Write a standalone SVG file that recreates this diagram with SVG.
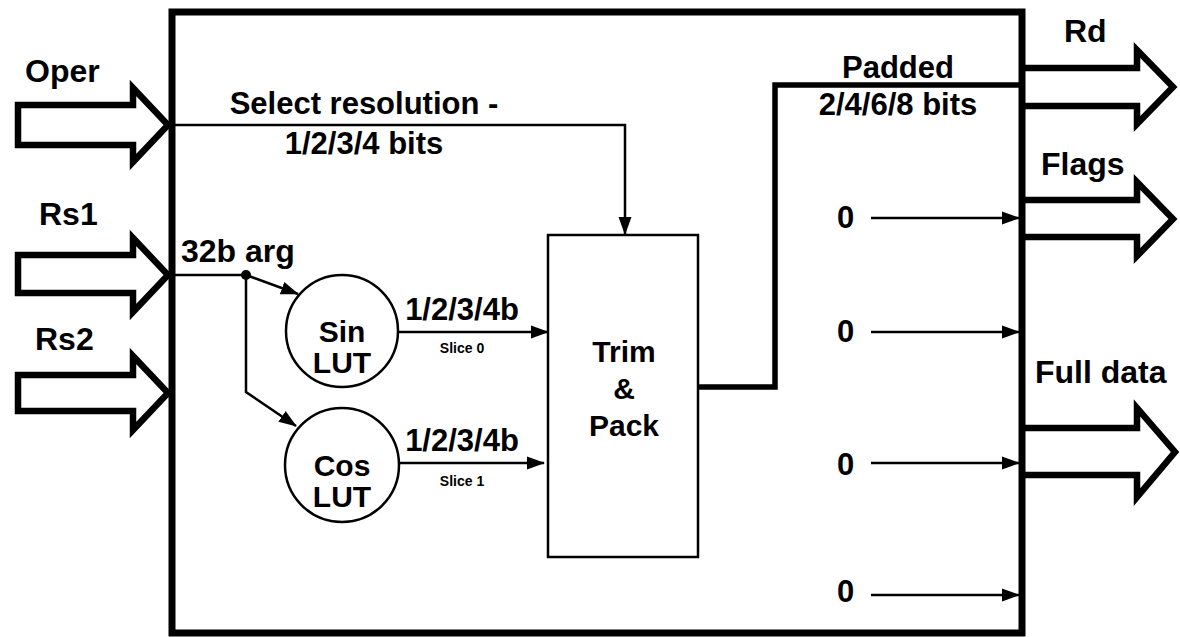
<svg xmlns="http://www.w3.org/2000/svg" width="1180" height="637" viewBox="0 0 1180 637">
<defs>
<marker id="ah" markerWidth="18" markerHeight="14" refX="17" refY="7" orient="auto" markerUnits="userSpaceOnUse">
<path d="M0,0.5 L18,7 L0,13.5 Z" fill="#000"/>
</marker>
<style>
text{font-family:"Liberation Sans",Arial,Helvetica,sans-serif;font-weight:bold;fill:#000}
.big{font-size:30px}
.io{font-size:32px}
.mid{font-size:31px}
.small{font-size:14px}
.blk{fill:#fff;stroke:#000;stroke-width:6.5;stroke-linejoin:miter}
.thin{fill:none;stroke:#000;stroke-width:2.5}
.thick{fill:none;stroke:#000;stroke-width:5.5}
.shape{fill:#fff;stroke:#000;stroke-width:2.5}
</style>
</defs>
<rect width="1180" height="637" fill="#fff"/>

<g id="oper">
<polygon class="blk" points="18,105 133,105 133,88 168,125 133,162 133,145 18,145"/>
<text class="io" x="25" y="82">Oper</text>
</g>
<g id="rs1">
<polygon class="blk" points="18,255 133,255 133,238 168,275 133,312 133,293 18,293"/>
<text class="io" x="39" y="225">Rs1</text>
</g>
<g id="rs2">
<polygon class="blk" points="18,375 133,375 133,356 168,393 133,430 133,411 18,411"/>
<text class="io" x="35" y="350">Rs2</text>
</g>

<g id="rd">
<polyline class="blk" points="1022,68 1137,68 1137,50 1173,87 1137,124 1137,106 1022,106"/>
<text class="io" x="1064" y="42">Rd</text>
</g>
<g id="flags">
<polyline class="blk" points="1022,200 1137,200 1137,182 1173,219 1137,256 1137,237 1022,237"/>
<text class="io" x="1041" y="175">Flags</text>
</g>
<g id="fulldata">
<polyline class="blk" points="1022,428 1137,428 1137,408 1175,452 1137,497 1137,475 1022,475"/>
<text class="io" x="1035" y="383">Full data</text>
</g>

<g id="unit">
<rect x="172" y="12" width="850" height="621" fill="none" stroke="#000" stroke-width="7"/>
</g>

<g id="sinlut">
<circle class="shape" cx="342" cy="331" r="56"/>
<text class="big" x="342" y="342" text-anchor="middle">Sin</text>
<text class="big" x="342" y="373" text-anchor="middle">LUT</text>
</g>
<g id="coslut">
<circle class="shape" cx="342" cy="465" r="57"/>
<text class="big" x="342" y="476" text-anchor="middle">Cos</text>
<text class="big" x="342" y="507" text-anchor="middle">LUT</text>
</g>
<g id="trimpack">
<rect class="shape" x="548" y="235" width="150" height="322"/>
<text class="big" x="624" y="362" text-anchor="middle">Trim</text>
<text class="big" x="624" y="399" text-anchor="middle">&amp;</text>
<text class="big" x="624" y="436" text-anchor="middle">Pack</text>
</g>

<g id="zeros">
<text class="mid" x="837" y="228">0</text>
<text class="mid" x="837" y="342">0</text>
<text class="mid" x="837" y="475">0</text>
<text class="mid" x="837" y="602">0</text>
</g>

<g id="connectors">
<polyline class="thin" points="172,125 625,125 625,234" marker-end="url(#ah)"/>
<line class="thin" x1="172" y1="275" x2="246" y2="275"/>
<circle cx="246" cy="275" r="5" fill="#000"/>
<line class="thin" x1="246" y1="275" x2="298" y2="294" marker-end="url(#ah)"/>
<polyline class="thin" points="246,275 246,392 296,426" marker-end="url(#ah)"/>
<line class="thin" x1="398" y1="332" x2="548" y2="332" marker-end="url(#ah)"/>
<line class="thin" x1="398" y1="463" x2="544" y2="463" marker-end="url(#ah)"/>
<polyline class="thick" points="698,387 775,387 775,85 1022,85"/>
<line class="thin" x1="871" y1="218" x2="1019" y2="218" marker-end="url(#ah)"/>
<line class="thin" x1="871" y1="332" x2="1019" y2="332" marker-end="url(#ah)"/>
<line class="thin" x1="871" y1="463" x2="1019" y2="463" marker-end="url(#ah)"/>
<line class="thin" x1="871" y1="595" x2="1019" y2="595" marker-end="url(#ah)"/>
</g>

<g id="labels">
<text class="mid" x="364" y="114" text-anchor="middle">Select resolution -</text>
<text class="mid" x="364" y="154" text-anchor="middle">1/2/3/4 bits</text>
<text class="io" x="181" y="262">32b arg</text>
<text class="mid" x="462" y="320" text-anchor="middle">1/2/3/4b</text>
<text class="small" x="462" y="353" text-anchor="middle">Slice 0</text>
<text class="mid" x="462" y="451" text-anchor="middle">1/2/3/4b</text>
<text class="small" x="462" y="486" text-anchor="middle">Slice 1</text>
<text class="mid" x="898" y="78" text-anchor="middle">Padded</text>
<text class="mid" x="898" y="115" text-anchor="middle">2/4/6/8 bits</text>
</g>
</svg>
